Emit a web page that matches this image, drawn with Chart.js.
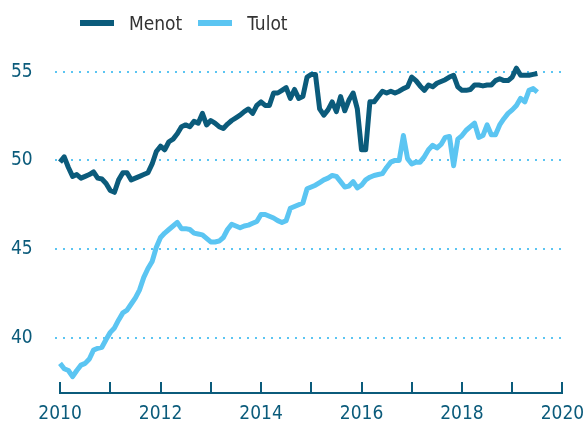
<!DOCTYPE html>
<html lang="fi">
<head>
<meta charset="utf-8">
<title>Menot ja tulot</title>
<script src="https://cdn.jsdelivr.net/npm/chart.js@4"></script>
<style>
  html, body { margin: 0; padding: 0; background: #fff; }
  #wrap { position: relative; width: 583px; height: 425px; }
  #legend {
    position: absolute; left: 80px; top: 12px; height: 22px;
    display: flex; align-items: center;
    font-family: "DejaVu Sans Condensed", sans-serif;
    font-size: 19px; line-height: 22px; color: #333;
  }
  .item { display: flex; align-items: center; margin-right: 16px; }
  .swatch { width: 34px; height: 6px; margin-right: 15px; }
</style>
</head>
<body>
<div id="wrap">
  <canvas id="chart" width="583" height="425"></canvas>
  <div id="legend">
    <div class="item"><span class="swatch" style="background:#0b5b7b"></span>Menot</div>
    <div class="item"><span class="swatch" style="background:#5bc5f2"></span>Tulot</div>
  </div>
</div>
<script>
// kuukausisarjat, tammikuu 2010 - heinäkuu 2019
const startYear = 2010;
const menot = [
  49.9, 50.2, 49.6, 49.1, 49.2, 49.0, 49.1, 49.2, 49.35, 49.0, 48.95, 48.7,
  48.3, 48.2, 48.9, 49.3, 49.3, 48.9, 49.0, 49.1, 49.2, 49.3, 49.8, 50.5,
  50.8, 50.6, 51.05, 51.2, 51.5, 51.9, 52.0, 51.9, 52.2, 52.1, 52.65, 52.0,
  52.25, 52.1, 51.9, 51.8, 52.05, 52.25, 52.4, 52.55, 52.75, 52.9, 52.65, 53.1,
  53.3, 53.1, 53.1, 53.8, 53.8, 53.95, 54.1, 53.5, 54.0, 53.5, 53.6, 54.7,
  54.85, 54.85, 52.9, 52.55, 52.85, 53.3, 52.75, 53.6, 52.8, 53.4, 53.8, 52.9,
  50.6, 50.6, 53.3, 53.3, 53.6, 53.9, 53.8, 53.9, 53.8, 53.9, 54.05, 54.15,
  54.7, 54.5, 54.2, 53.95, 54.25, 54.15, 54.35, 54.45, 54.55, 54.7, 54.8, 54.15,
  53.95, 53.95, 54.0, 54.25, 54.25, 54.2, 54.25, 54.25, 54.5, 54.6, 54.5, 54.5,
  54.7, 55.2, 54.8, 54.8, 54.8, 54.85, 54.9
];
const tulot = [
  38.55, 38.25, 38.15, 37.8, 38.15, 38.45, 38.55, 38.8, 39.3, 39.4, 39.46, 39.9,
  40.3, 40.55, 41.0, 41.4, 41.55, 41.9, 42.25, 42.7, 43.4, 43.9, 44.3, 45.1,
  45.65, 45.9, 46.1, 46.3, 46.5, 46.15, 46.15, 46.1, 45.9, 45.85, 45.8, 45.6,
  45.4, 45.4, 45.45, 45.65, 46.1, 46.4, 46.3, 46.2, 46.3, 46.35, 46.45, 46.55,
  46.95, 46.95, 46.85, 46.75, 46.6, 46.5, 46.6, 47.3, 47.4, 47.5, 47.6, 48.4,
  48.5, 48.6, 48.75, 48.9, 49.0, 49.15, 49.1, 48.8, 48.5, 48.55, 48.8, 48.45,
  48.6, 48.9, 49.05, 49.15, 49.2, 49.25, 49.6, 49.9, 50.0, 50.0, 51.4, 50.1,
  49.8, 49.9, 49.9, 50.2, 50.6, 50.85, 50.7, 50.9, 51.3, 51.35, 49.7, 51.2,
  51.4, 51.7, 51.9, 52.1, 51.3, 51.4, 52.0, 51.45, 51.45, 52.0, 52.35, 52.65,
  52.85, 53.1, 53.5, 53.3, 53.95, 54.05, 53.85
];
const yearTicks = [2010, 2012, 2014, 2016, 2018, 2020];
const valueTicks = [40, 45, 50, 55];

const DARK = '#0b5b7b';
const LIGHT = '#5bc5f2';
const FONT = "'DejaVu Sans Condensed', sans-serif";

const toPoints = arr => arr.map((v, i) => ({ x: startYear + i / 12, y: v }));

// x-akselin viiva ja ylöspäin osoittavat vuosimerkit
const xAxisLine = {
  id: 'xAxisLine',
  afterDraw(chart) {
    const { ctx, chartArea, scales: { x } } = chart;
    const y = Math.round(chartArea.bottom);
    const first = yearTicks[0];
    const last = yearTicks[yearTicks.length - 1];
    const x0 = Math.round(x.getPixelForValue(first));
    const x1 = Math.round(x.getPixelForValue(last));
    ctx.save();
    ctx.fillStyle = DARK;
    ctx.fillRect(x0 - 1, y - 1, x1 - x0 + 2, 2);
    for (let yr = first; yr <= last; yr++) {
      const px = Math.round(x.getPixelForValue(yr));
      ctx.fillRect(px - 1, y - 11, 2, 11);
    }
    ctx.restore();
  }
};

new Chart(document.getElementById('chart'), {
  type: 'line',
  data: {
    datasets: [
      { label: 'Menot', data: toPoints(menot), borderColor: DARK, backgroundColor: DARK },
      { label: 'Tulot', data: toPoints(tulot), borderColor: LIGHT, backgroundColor: LIGHT }
    ]
  },
  options: {
    responsive: false,
    animation: false,
    layout: { padding: { top: 54, left: 11, right: 18, bottom: 0 } },
    elements: {
      line: { borderWidth: 5, tension: 0, borderJoinStyle: 'round', borderCapStyle: 'butt' },
      point: { radius: 0 }
    },
    plugins: { legend: { display: false }, tooltip: { enabled: false } },
    scales: {
      x: {
        type: 'linear',
        min: 2009.9,
        max: 2020.05,
        afterBuildTicks: s => { s.ticks = yearTicks.map(v => ({ value: v })); },
        afterFit: s => { s.height = 32; s.paddingLeft = 0; s.paddingRight = 0; },
        grid: { display: false, drawTicks: false },
        border: { display: false },
        ticks: { color: DARK, padding: 10, font: { family: FONT, size: 19 }, maxRotation: 0, callback: v => String(v) }
      },
      y: {
        min: 36.88,
        max: 56,
        afterBuildTicks: s => { s.ticks = valueTicks.map(v => ({ value: v })); },
        afterFit: s => { s.width = 44; s.paddingTop = 0; s.paddingBottom = 0; },
        grid: { color: LIGHT, lineWidth: 2, drawTicks: false },
        border: { display: false, dash: [2, 6] },
        ticks: { color: DARK, padding: 0, crossAlign: 'far', font: { family: FONT, size: 19 } }
      }
    }
  },
  plugins: [xAxisLine]
});
</script>
</body>
</html>
